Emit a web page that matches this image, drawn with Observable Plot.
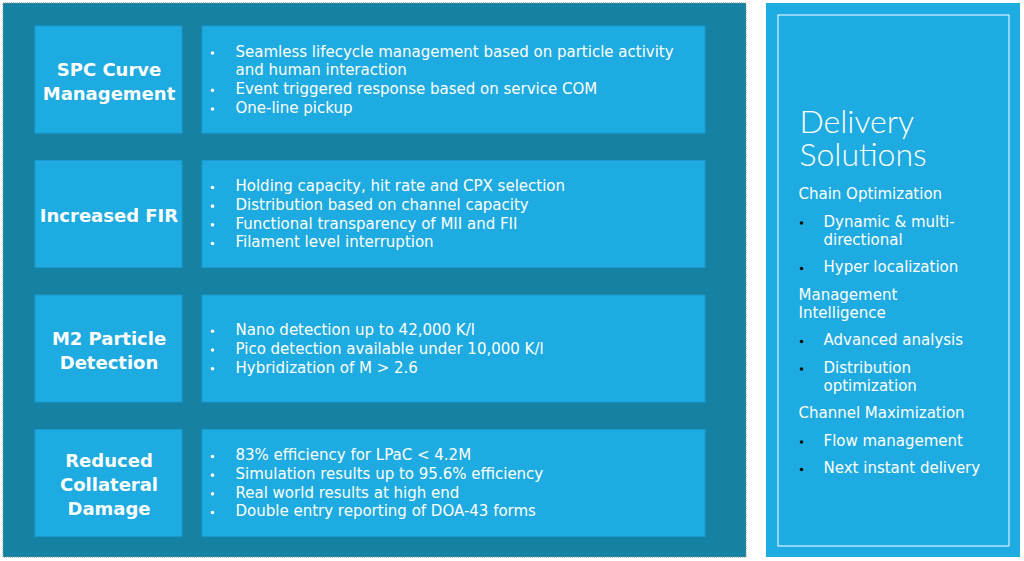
<!DOCTYPE html>
<html><head><meta charset="utf-8">
<script src="https://cdn.jsdelivr.net/npm/d3@7"></script>
<script src="https://cdn.jsdelivr.net/npm/@observablehq/plot@0.6"></script>
<style>
html,body{margin:0;padding:0;background:#fff;}
svg{display:block;}
</style></head>
<body><div id="chart"></div>
<script>
// ---- content ----
const rowTitles = ["SPC Curve\nManagement", "Increased FIR", "M2 Particle\nDetection", "Reduced\nCollateral\nDamage"];
const rowBullets = [
  ["Seamless lifecycle management based on particle activity\nand human interaction", "Event triggered response based on service COM", "One-line pickup"],
  ["Holding capacity, hit rate and CPX selection", "Distribution based on channel capacity", "Functional transparency of MII and FII", "Filament level interruption"],
  ["Nano detection up to 42,000 K/l", "Pico detection available under 10,000 K/l", "Hybridization of M > 2.6"],
  ["83% efficiency for LPaC < 4.2M", "Simulation results up to 95.6% efficiency", "Real world results at high end", "Double entry reporting of DOA-43 forms"]
];
const sideTitle = ["Delivery", "Solutions"];
const sideHeadings = ["Chain Optimization", "Management\nIntelligence", "Channel Maximization"];
const sideItems = [
  ["Dynamic & multi-\ndirectional", "Hyper localization"],
  ["Advanced analysis", "Distribution\noptimization"],
  ["Flow management", "Next instant delivery"]
];

// ---- layout ----
const W = 1024, H = 561;
const BODY = "'DejaVu Sans', sans-serif";
const TITLE = "Lato, sans-serif";
const panel = {x1: 3, x2: 746, y1: 3, y2: 557};
const side = {x1: 766, x2: 1020, y1: 3, y2: 557};
const sideInner = {x1: 778, x2: 1009, y1: 15, y2: 546};
const rowTop0 = 26, rowStep = 134.5, rowH = 107;
const leftBox = {x1: 35, x2: 182}, rightBox = {x1: 202, x2: 705};
const lineStep = 18.7;

const boxes = [];
const titleData = [];
const bulletLines = [];
const bulletDots = [];
rowTitles.forEach((t, i) => {
  const y1 = rowTop0 + i * rowStep, y2 = y1 + rowH, cy = (y1 + y2) / 2;
  boxes.push({...leftBox, y1, y2});
  boxes.push({...rightBox, y1, y2});
  titleData.push({x: (leftBox.x1 + leftBox.x2) / 2, y: cy, text: t});
  const lines = [];
  rowBullets[i].forEach(b => b.split("\n").forEach((l, k) => lines.push({text: l, first: k === 0})));
  lines.forEach((l, j) => {
    const y = cy + (j - (lines.length - 1) / 2) * lineStep;
    bulletLines.push({x: 235, y, text: l.text});
    if (l.first) bulletDots.push({x: 212, y: y + 1});
  });
});

// sidebar flow
const sideLines = [];
const sideDots = [];
let sy = 194;
sideHeadings.forEach((h, i) => {
  h.split("\n").forEach((l, k) => { if (k > 0) sy += 18; sideLines.push({x: 798, y: sy, text: l}); });
  sideItems[i].forEach(it => {
    sy += 27.5;
    sideDots.push({x: 801, y: sy + 1});
    it.split("\n").forEach((l, k) => { if (k > 0) sy += 18; sideLines.push({x: 823, y: sy, text: l}); });
  });
  sy += 27.5;
});
const sideTitleData = sideTitle.map((t, i) => ({x: 799, y: 122 + i * 33, text: t}));

const chart = Plot.plot({
  width: W, height: H, margin: 0,
  style: {fontFamily: BODY, background: "#fff"},
  x: {type: "linear", domain: [0, W], range: [0, W], axis: null},
  y: {type: "linear", domain: [0, H], range: [0, H], axis: null},
  marks: [
    Plot.rect([panel], {x1: "x1", x2: "x2", y1: "y1", y2: "y2", fill: "#1682A3", stroke: "#8a8a8a", strokeDasharray: "1,1", strokeWidth: 1}),
    Plot.rect(boxes, {x1: "x1", x2: "x2", y1: "y1", y2: "y2", fill: "#1DABE2", stroke: "#1A9BD0", strokeWidth: 1}),
    Plot.rect([side], {x1: "x1", x2: "x2", y1: "y1", y2: "y2", fill: "#1DABE2"}),
    Plot.rect([sideInner], {x1: "x1", x2: "x2", y1: "y1", y2: "y2", fill: "none", stroke: "#fff", strokeWidth: 1}),
    Plot.text(titleData, {x: "x", y: "y", text: "text", fill: "#fff", fontFamily: BODY, fontSize: 18, fontWeight: "bold", lineHeight: 1.33, textAnchor: "middle", lineAnchor: "middle"}),
    Plot.text(bulletLines, {x: "x", y: "y", text: "text", fill: "#fff", fontSize: 15, textAnchor: "start", lineAnchor: "middle"}),
    Plot.dot(bulletDots, {x: "x", y: "y", r: 1.8, fill: "#fff", stroke: null}),
    Plot.text(sideTitleData, {x: "x", y: "y", text: "text", fill: "#fff", fontFamily: TITLE, fontSize: 32, fontWeight: 300, textAnchor: "start", lineAnchor: "middle"}),
    Plot.text(sideLines, {x: "x", y: "y", text: "text", fill: "#fff", fontSize: 15, textAnchor: "start", lineAnchor: "middle"}),
    Plot.dot(sideDots, {x: "x", y: "y", r: 1.8, fill: "#111", stroke: null})
  ]
});
document.getElementById("chart").appendChild(chart);
</script>
</body></html>
